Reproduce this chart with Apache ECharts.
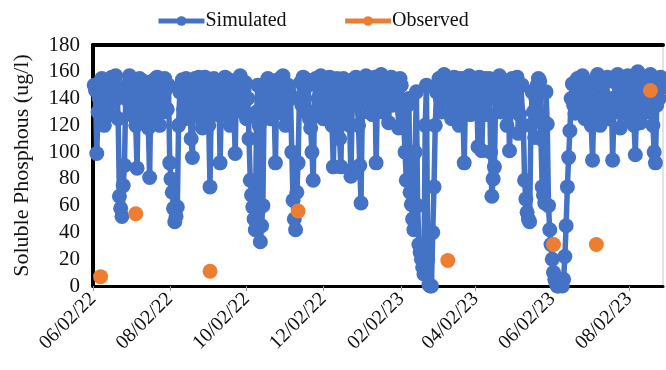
<!DOCTYPE html>
<html>
<head>
<meta charset="utf-8">
<script src="https://cdn.jsdelivr.net/npm/echarts@6/dist/echarts.min.js"></script>
<style>html,body{margin:0;padding:0;background:#fff}#c{width:666px;height:370px}</style>
</head>
<body>
<div id="c"></div>
<script>
// Simulated: daily values starting 2022-06-03
const simStart = '2022-06-03';
const simStepDays = 1;
const simValues = [
  150,146, 99,130, 140,152, 155,138, 120,149, 152,135, 128,150, 156,142, 138,157, 148,125,
  67,58, 52,75, 90,140, 150,145, 157,128, 130,150, 152,120, 88,140, 155,148, 125,153,
  150,135, 140,118, 81,146, 153,128, 135,155, 156,140, 120,152, 149,130, 155,147, 132,150,
  92,80, 70,58, 48,52, 59,120, 145,150, 154,132, 125,155, 150,128, 140,110, 96,148,
  155,142, 130,156, 151,125, 118,150, 156,133, 140,120, 74,138, 150,155, 154,140, 128,150,
  92,135, 150,145, 156,128, 135,154, 120,140, 153,130, 99,150, 148,135, 157,150, 130,146,
  152,125, 140,110, 79,68, 59,50, 42,130, 150,120, 33,45, 60,135, 145,152, 155,140,
  125,150, 150,130, 92,148, 154,140, 135,156, 157,128, 120,150, 150,145, 140,100, 64,50,
  42,70, 92,140, 152,135, 156,148, 130,154, 150,125, 118,100, 79,130, 155,150, 140,155,
  157,130, 125,150, 152,140, 135,156, 155,120, 89,135, 150,155, 140,110, 89,140, 155,145,
  128,152, 150,120, 82,135, 145,155, 156,138, 120,90, 62,130, 150,145, 157,152, 130,148,
  152,128, 140,156, 92,140, 155,150, 158,130, 135,155, 150,140, 122,148, 156,135, 140,150,
  152,140, 118,155, 150,130, 120,100, 79,135, 140,70, 61,50, 42,100, 145,60, 31,25,
  20,14, 9,120, 150,20, 1,0, 0,40, 74,120, 145,150, 155,140, 130,152, 158,145,
  140,155, 152,130, 125,148, 156,135, 145,155, 120,140, 155,130, 92,138, 150,156, 157,128,
  130,150, 152,135, 140,104, 156,140, 101,135, 150,155, 128,145, 155,100, 67,80, 89,140,
  150,155, 157,130, 135,150, 152,140, 120,148, 101,130, 155,145, 140,152, 156,114, 128,150,
  150,120, 79,65, 55,50, 48,120, 145,130, 111,140, 150,155, 153,110, 74,68, 62,145,
  121,60, 42,31, 20,10, 5,2, 0,0, 2,1, 0,5, 22,45, 74,96, 116,140,
  151,135, 129,150, 155,140, 140,156, 157,130, 125,148, 150,140, 140,120, 94,130, 135,155,
  158,140, 120,150, 150,135, 140,155, 156,125, 128,140, 94,130, 152,140, 158,150, 118,145,
  150,130, 145,155, 157,140, 125,150, 152,120, 98,135, 160,150, 122,140, 150,155, 155,135,
  130,150, 158,140, 120,100, 92,135, 150,140, 156,148
];
const obsDates = ['2022-06-08','2022-07-06','2022-09-03','2022-11-12','2023-03-11','2023-06-03','2023-07-07','2023-08-19'];
const obsValues = [7, 54, 11, 56, 19, 31, 31, 146];
const xTickDates = ['2022-06-02','2022-08-02','2022-10-02','2022-12-02','2023-02-02','2023-04-02','2023-06-02','2023-08-02'];
const xMinDate = '2022-06-02';
const xMaxDate = '2023-08-29';

const DAY = 86400000;
function ts(s){ const p = s.split('-').map(Number); return Date.UTC(p[0], p[1]-1, p[2]); }
const origin = ts(xMinDate);
function dayNum(s){ return Math.round((ts(s) - origin) / DAY); }
function fmt(v){
  const d = new Date(origin + Math.round(v) * DAY);
  const mm = String(d.getUTCMonth()+1).padStart(2,'0');
  const dd = String(d.getUTCDate()).padStart(2,'0');
  const yy = String(d.getUTCFullYear()%100).padStart(2,'0');
  return mm + '/' + dd + '/' + yy;
}
const s0 = dayNum(simStart);
const simData = simValues.map((v,i)=>[s0 + i*simStepDays, v]);
const obsData = obsDates.map((d,i)=>[dayNum(d), obsValues[i]]);
const tickDays = xTickDates.map(dayNum);
const xMax = dayNum(xMaxDate);

const FONT = 'Liberation Serif';
const chart = echarts.init(document.getElementById('c'), null, {renderer:'canvas'});
chart.setOption({
  animation:false,
  backgroundColor:'#fff',
  grid:{left:93, right:3, top:45, bottom:84, show:true, borderColor:'#c8c8c8', borderWidth:1},
  legend:{
    left:151, top:6, itemWidth:46, itemHeight:12, itemGap:56,
    textStyle:{fontFamily:FONT, fontSize:20, color:'#111', padding:[0,0,0,-4]},
    data:[
      {name:'Simulated', lineStyle:{opacity:1, width:5, color:'#4472C4'}},
      {name:'Observed', lineStyle:{opacity:1, width:5, color:'#ED7D31'}}
    ]
  },
  xAxis:[{
    type:'value', min:0, max:xMax,
    axisLine:{show:true, onZero:false, lineStyle:{color:'#000', width:3}},
    axisTick:{show:true, customValues:tickDays, length:5, lineStyle:{color:'#999', width:1}},
    axisLabel:{customValues:tickDays, formatter:fmt, rotate:45, margin:10,
      fontFamily:FONT, fontSize:20, color:'#111'},
    splitLine:{show:false}
  },{
    type:'value', position:'top', min:0, max:xMax,
    axisLine:{show:true, onZero:false, lineStyle:{color:'#000', width:4}},
    axisTick:{show:false}, axisLabel:{show:false}, splitLine:{show:false}
  }],
  yAxis:{
    type:'value', min:0, max:180, interval:20,
    name:'Soluble Phosphous (ug/l)', nameLocation:'middle', nameGap:60,
    nameTextStyle:{fontFamily:FONT, fontSize:22, color:'#111'},
    axisLine:{show:true, lineStyle:{color:'#000', width:4}},
    axisTick:{show:false},
    axisLabel:{fontFamily:FONT, fontSize:21, color:'#111', margin:13},
    splitLine:{show:false}
  },
  series:[{
    name:'Simulated', type:'line', data:simData, xAxisIndex:0,
    symbol:'circle', symbolSize:15, showAllSymbol:true,
    itemStyle:{color:'#4472C4'}, lineStyle:{color:'#4472C4', width:5.5},
    z:2
  },{
    name:'Observed', type:'line', data:obsData, xAxisIndex:0,
    symbol:'circle', symbolSize:15,
    itemStyle:{color:'#ED7D31'}, lineStyle:{color:'#ED7D31', width:5, opacity:0},
    z:3
  }]
});
</script>
</body>
</html>
